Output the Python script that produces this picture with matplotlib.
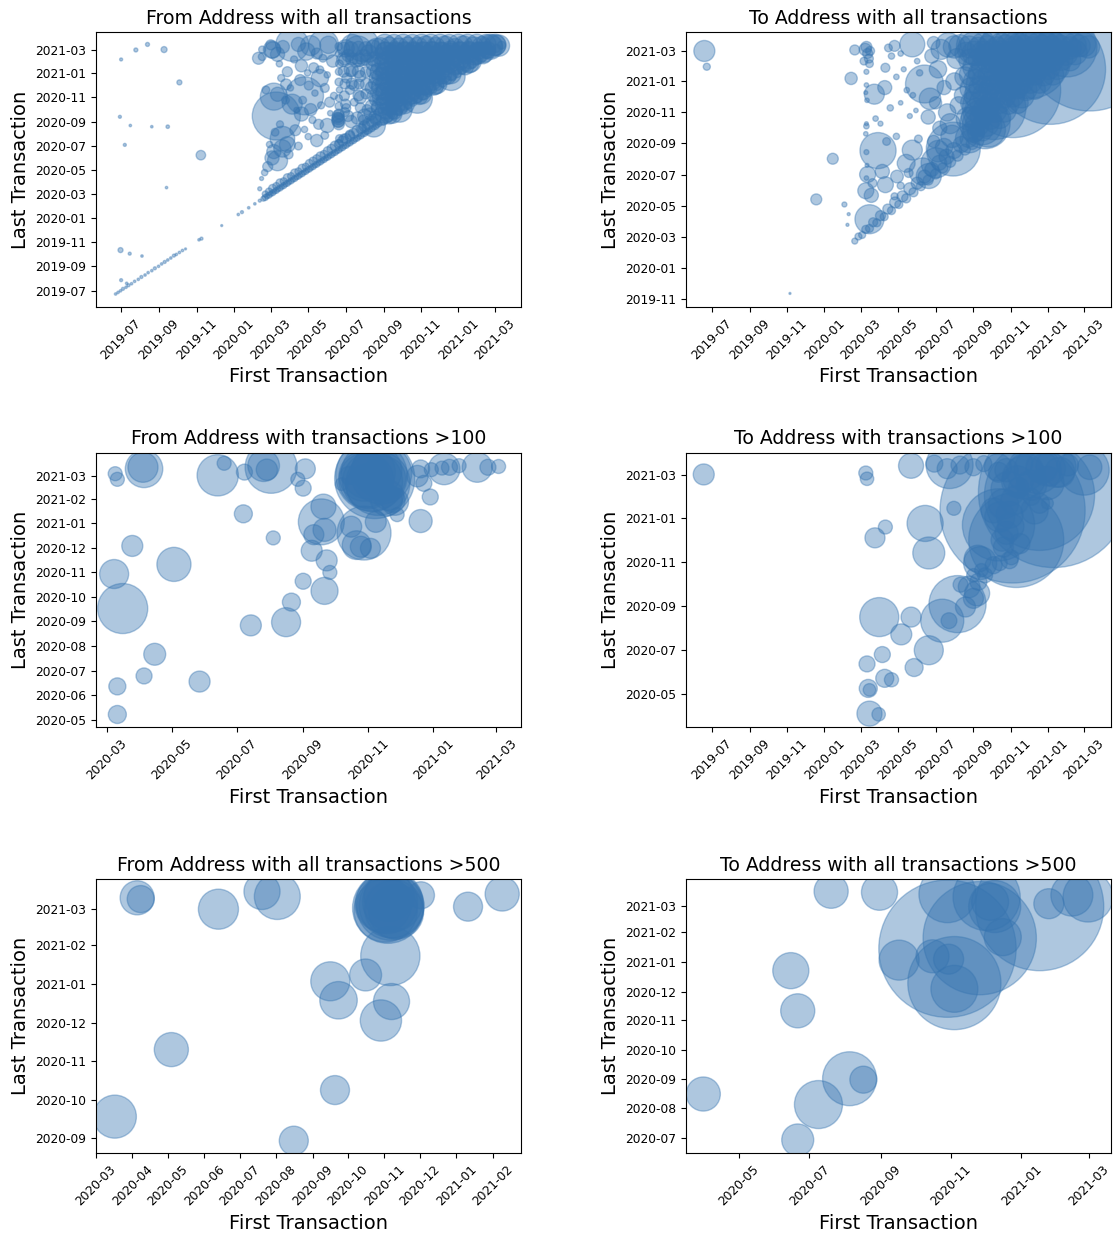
import matplotlib
matplotlib.use("Agg")
import matplotlib.pyplot as plt
import matplotlib.dates as mdates
import pandas as pd

# rows are (first transaction, last transaction, number of transactions)
from_all = [
    # early outliers
    ("2019-07-01", "2021-02-05", 9), ("2019-07-25", "2021-03-01", 16), ("2019-08-13", "2021-03-15", 16),
    ("2019-09-09", "2021-03-02", 36), ("2019-10-04", "2020-12-09", 25), ("2019-06-29", "2020-09-13", 9),
    ("2019-07-16", "2020-08-22", 6), ("2019-08-20", "2020-08-19", 6), ("2019-09-15", "2020-08-19", 12),
    ("2019-07-07", "2020-07-04", 9), ("2019-11-08", "2020-06-08", 90), ("2019-09-13", "2020-03-18", 6),
    ("2019-06-30", "2019-10-12", 25), ("2019-07-15", "2019-10-03", 9), ("2019-08-04", "2019-09-27", 6),
    ("2019-07-01", "2019-07-28", 9), ("2019-07-10", "2019-07-20", 6),
    # early diagonal
    ("2019-06-22", "2019-06-23", 6), ("2019-06-26", "2019-06-27", 6), ("2019-06-30", "2019-07-01", 6),
    ("2019-07-04", "2019-07-06", 9), ("2019-07-09", "2019-07-10", 6), ("2019-07-13", "2019-07-15", 9),
    ("2019-07-18", "2019-07-19", 6), ("2019-07-23", "2019-07-25", 6), ("2019-07-29", "2019-07-30", 6),
    ("2019-08-03", "2019-08-05", 9), ("2019-08-09", "2019-08-10", 6), ("2019-08-14", "2019-08-16", 6),
    ("2019-08-20", "2019-08-21", 6), ("2019-08-25", "2019-08-27", 9), ("2019-08-31", "2019-09-01", 6),
    ("2019-09-05", "2019-09-07", 6), ("2019-09-10", "2019-09-12", 9), ("2019-09-15", "2019-09-17", 6),
    ("2019-09-20", "2019-09-22", 6), ("2019-09-25", "2019-09-28", 9), ("2019-09-29", "2019-10-01", 6),
    ("2019-10-04", "2019-10-06", 6), ("2019-10-09", "2019-10-11", 6), ("2019-10-14", "2019-10-15", 4),
    ("2019-11-05", "2019-11-07", 6), ("2019-11-09", "2019-11-10", 9), ("2019-12-12", "2019-12-13", 4),
    ("2020-01-08", "2020-01-10", 6), ("2020-01-14", "2020-01-16", 9), ("2020-01-25", "2020-01-27", 6),
    ("2020-02-04", "2020-02-06", 6), ("2020-02-12", "2020-02-14", 9),
    # band along the diagonal
    ("2020-02-18", "2020-02-19", 25), ("2020-02-21", "2020-03-02", 36), ("2020-02-24", "2020-02-25", 25),
    ("2020-02-27", "2020-03-08", 49), ("2020-03-01", "2020-03-02", 25), ("2020-03-04", "2020-03-16", 64),
    ("2020-03-07", "2020-03-08", 25), ("2020-03-10", "2020-03-22", 49), ("2020-03-13", "2020-03-14", 25),
    ("2020-03-16", "2020-03-30", 64), ("2020-03-19", "2020-03-20", 25), ("2020-03-22", "2020-04-03", 49),
    ("2020-03-25", "2020-03-26", 25), ("2020-03-28", "2020-04-12", 64), ("2020-03-31", "2020-04-01", 25),
    ("2020-04-03", "2020-04-16", 49), ("2020-04-06", "2020-04-07", 25), ("2020-04-09", "2020-04-24", 64),
    ("2020-04-12", "2020-04-13", 25), ("2020-04-15", "2020-04-28", 49), ("2020-04-18", "2020-04-19", 25),
    ("2020-04-21", "2020-05-06", 64), ("2020-04-24", "2020-04-25", 25), ("2020-04-27", "2020-05-10", 49),
    ("2020-04-30", "2020-05-01", 25), ("2020-05-03", "2020-05-18", 64), ("2020-05-06", "2020-05-07", 25),
    ("2020-05-09", "2020-05-24", 64), ("2020-05-12", "2020-05-13", 25), ("2020-05-15", "2020-05-30", 64),
    ("2020-05-18", "2020-05-19", 25), ("2020-05-21", "2020-06-05", 81), ("2020-05-24", "2020-05-25", 25),
    ("2020-05-27", "2020-06-10", 64), ("2020-05-30", "2020-05-31", 25), ("2020-06-02", "2020-06-18", 81),
    ("2020-06-05", "2020-06-06", 25), ("2020-06-08", "2020-06-24", 81), ("2020-06-11", "2020-06-12", 25),
    ("2020-06-14", "2020-07-01", 100), ("2020-06-17", "2020-06-18", 25), ("2020-06-20", "2020-07-06", 81),
    ("2020-06-23", "2020-06-24", 25), ("2020-06-26", "2020-07-14", 100), ("2020-06-29", "2020-06-30", 25),
    ("2020-07-02", "2020-07-20", 100), ("2020-07-05", "2020-07-06", 25), ("2020-07-08", "2020-07-26", 100),
    ("2020-07-11", "2020-07-12", 25), ("2020-07-14", "2020-08-02", 100), ("2020-07-17", "2020-07-18", 25),
    ("2020-07-20", "2020-08-08", 121), ("2020-07-23", "2020-07-24", 25), ("2020-07-26", "2020-08-14", 100),
    ("2020-07-29", "2020-07-30", 25), ("2020-08-01", "2020-08-20", 121), ("2020-08-04", "2020-08-05", 25),
    ("2020-08-07", "2020-08-26", 121), ("2020-08-10", "2020-08-11", 25), ("2020-08-13", "2020-09-01", 121),
    ("2020-08-16", "2020-08-17", 25), ("2020-08-19", "2020-09-06", 121), ("2020-08-22", "2020-08-23", 25),
    ("2020-08-25", "2020-08-26", 25),
    ("2020-02-21", "2020-02-22", 36), ("2020-02-27", "2020-02-28", 36), ("2020-03-04", "2020-03-05", 36),
    ("2020-03-10", "2020-03-11", 36), ("2020-03-16", "2020-03-17", 36), ("2020-03-22", "2020-03-23", 36),
    ("2020-03-28", "2020-03-29", 36), ("2020-04-03", "2020-04-04", 36), ("2020-04-09", "2020-04-10", 36),
    ("2020-04-15", "2020-04-16", 36), ("2020-04-21", "2020-04-22", 36), ("2020-04-27", "2020-04-28", 36),
    ("2020-05-03", "2020-05-04", 36), ("2020-05-09", "2020-05-10", 36), ("2020-05-15", "2020-05-16", 36),
    ("2020-05-21", "2020-05-22", 36), ("2020-05-27", "2020-05-28", 36), ("2020-06-02", "2020-06-03", 36),
    ("2020-06-08", "2020-06-09", 36), ("2020-06-14", "2020-06-15", 36), ("2020-06-20", "2020-06-21", 36),
    ("2020-06-26", "2020-06-27", 36), ("2020-07-02", "2020-07-03", 36), ("2020-07-08", "2020-07-09", 36),
    ("2020-07-14", "2020-07-15", 36), ("2020-07-20", "2020-07-21", 36), ("2020-07-26", "2020-07-27", 36),
    ("2020-08-01", "2020-08-02", 36), ("2020-08-07", "2020-08-08", 36), ("2020-08-13", "2020-08-14", 36),
    ("2020-08-19", "2020-08-20", 36),
    # spring / summer 2020 bubbles
    ("2020-03-10", "2020-09-15", 2300), ("2020-04-05", "2021-03-14", 1090), ("2020-04-25", "2020-11-05", 1440),
    ("2020-05-26", "2021-03-14", 900), ("2020-03-06", "2020-11-03", 730), ("2020-03-12", "2020-05-25", 400),
    ("2020-03-06", "2020-06-17", 200), ("2020-02-10", "2021-02-08", 144), ("2020-02-16", "2021-03-02", 50),
    ("2020-03-04", "2021-03-01", 260), ("2020-03-12", "2021-02-18", 200), ("2020-03-21", "2021-03-09", 160),
    ("2020-03-12", "2020-11-09", 200), ("2020-03-26", "2020-12-04", 120), ("2020-04-18", "2020-12-15", 120),
    ("2020-05-02", "2020-12-01", 80), ("2020-05-20", "2020-12-20", 300), ("2020-05-10", "2021-01-15", 100),
    ("2020-04-20", "2021-01-20", 150), ("2020-03-28", "2021-01-05", 100), ("2020-02-22", "2020-11-20", 60),
    ("2020-02-20", "2020-04-25", 40), ("2020-02-15", "2020-04-10", 16), ("2020-02-12", "2020-03-15", 16),
    ("2020-02-25", "2020-05-10", 100), ("2020-03-03", "2020-06-01", 200), ("2020-03-20", "2020-06-25", 300),
    ("2020-03-20", "2020-07-20", 600), ("2020-03-28", "2020-07-05", 250), ("2020-04-10", "2020-08-10", 120),
    ("2020-04-20", "2020-09-20", 200), ("2020-04-05", "2020-10-15", 400), ("2020-05-05", "2020-10-01", 150),
    ("2020-05-18", "2020-08-25", 100), ("2020-06-01", "2020-08-22", 200), ("2020-05-15", "2020-07-15", 150),
    ("2020-06-05", "2020-10-20", 100), ("2020-05-28", "2020-11-25", 80), ("2020-06-10", "2021-02-01", 150),
    ("2020-05-15", "2021-02-20", 120), ("2020-04-28", "2021-02-25", 300), ("2020-04-15", "2021-03-15", 200),
    ("2020-05-05", "2021-03-12", 400), ("2020-06-03", "2021-03-14", 300), ("2020-03-01", "2021-03-14", 100),
    ("2020-03-03", "2021-03-02", 300), ("2020-02-16", "2021-02-12", 60),
    ("2020-03-15", "2021-01-25", 40), ("2020-03-18", "2020-12-20", 50), ("2020-03-25", "2020-10-25", 60),
    ("2020-04-02", "2020-11-25", 40), ("2020-04-08", "2021-02-05", 50), ("2020-04-12", "2020-09-30", 30),
    ("2020-04-22", "2020-10-25", 60), ("2020-04-30", "2021-01-02", 40), ("2020-05-08", "2020-09-05", 50),
    ("2020-05-12", "2020-11-12", 40), ("2020-05-22", "2020-10-12", 50), ("2020-05-25", "2021-02-08", 60),
    ("2020-06-01", "2020-12-28", 40), ("2020-06-06", "2020-09-22", 30), ("2020-06-12", "2020-11-05", 50),
    ("2020-03-08", "2020-08-05", 60), ("2020-03-30", "2020-06-10", 80), ("2020-04-15", "2020-07-01", 60),
    ("2020-05-01", "2020-07-25", 40), ("2020-05-28", "2020-07-28", 60), ("2020-02-28", "2020-07-05", 40),
    ("2020-03-16", "2020-08-25", 50), ("2020-04-25", "2020-08-12", 40), ("2020-05-20", "2021-01-10", 60),
    # column of addresses started mid June 2020
    ("2020-06-19", "2020-09-15", 144), ("2020-06-19", "2020-09-08", 144), ("2020-06-19", "2020-09-01", 144),
    ("2020-06-20", "2020-08-25", 121), ("2020-06-18", "2020-09-11", 121), ("2020-06-20", "2020-09-20", 100),
    ("2020-06-19", "2020-09-04", 169), ("2020-06-20", "2021-03-10", 60), ("2020-06-20", "2021-02-20", 50),
    ("2020-06-21", "2021-01-25", 60), ("2020-06-20", "2021-01-05", 50), ("2020-06-20", "2020-12-10", 60),
    ("2020-06-21", "2020-11-20", 40), ("2020-06-20", "2020-10-30", 50), ("2020-06-20", "2020-10-10", 60),
    ("2020-06-21", "2020-07-20", 60), ("2020-06-20", "2020-07-08", 50),
    # summer 2020
    ("2020-07-21", "2021-03-01", 784), ("2020-07-28", "2021-03-14", 1090), ("2020-08-16", "2020-08-22", 530),
    ("2020-07-05", "2021-02-15", 150), ("2020-07-10", "2021-01-10", 200), ("2020-07-15", "2020-12-01", 100),
    ("2020-07-25", "2020-11-01", 150), ("2020-08-05", "2020-10-01", 100), ("2020-07-01", "2020-10-15", 100),
    ("2020-07-20", "2020-09-10", 150), ("2020-08-10", "2020-09-20", 150), ("2020-08-20", "2020-12-20", 200),
    ("2020-08-15", "2021-01-25", 200), ("2020-07-28", "2020-08-15", 80), ("2020-07-08", "2020-07-30", 80),
    ("2020-06-28", "2020-07-20", 80), ("2020-07-01", "2021-03-05", 300), ("2020-07-12", "2021-03-12", 500),
    ("2020-06-28", "2021-02-05", 200), ("2020-07-18", "2021-02-01", 150), ("2020-07-30", "2021-02-10", 250),
    ("2020-08-08", "2021-02-20", 300), ("2020-08-20", "2021-03-05", 400), ("2020-07-03", "2020-12-20", 100),
    ("2020-07-25", "2020-12-25", 120), ("2020-08-12", "2020-11-25", 150), ("2020-08-03", "2020-11-10", 100),
    ("2020-07-08", "2020-11-20", 80), ("2020-08-18", "2020-10-25", 120), ("2020-07-15", "2020-10-20", 60),
    ("2020-06-30", "2020-09-25", 80), ("2020-07-10", "2020-09-01", 150), ("2020-08-01", "2020-09-15", 200),
    ("2020-08-22", "2020-10-05", 150), ("2020-08-24", "2021-01-05", 300), ("2020-08-24", "2020-11-15", 250),
    ("2020-06-28", "2021-03-05", 150), ("2020-07-10", "2021-03-04", 200), ("2020-07-22", "2021-03-06", 180),
    ("2020-08-03", "2021-03-04", 200), ("2020-08-15", "2021-03-06", 250), ("2020-06-29", "2021-02-05", 120),
    ("2020-07-11", "2021-02-06", 150), ("2020-07-23", "2021-02-04", 180), ("2020-08-04", "2021-02-05", 150),
    ("2020-08-16", "2021-02-06", 200), ("2020-06-28", "2021-01-05", 120), ("2020-07-10", "2021-01-06", 100),
    ("2020-07-22", "2021-01-05", 150), ("2020-08-03", "2021-01-04", 120), ("2020-08-15", "2021-01-06", 180),
    ("2020-06-30", "2020-12-05", 100), ("2020-07-11", "2020-12-06", 120), ("2020-07-23", "2020-12-05", 100),
    ("2020-08-04", "2020-12-04", 150), ("2020-08-16", "2020-12-06", 120), ("2020-06-29", "2020-11-05", 100),
    ("2020-07-22", "2020-11-06", 120), ("2020-08-15", "2020-11-05", 150), ("2020-07-02", "2020-10-05", 80),
    ("2020-07-25", "2020-10-06", 100), ("2020-08-12", "2020-10-10", 150), ("2020-07-05", "2020-09-15", 120),
    ("2020-07-30", "2020-09-05", 100), ("2020-08-18", "2020-09-12", 150),
    # autumn 2020 onwards
    ("2020-08-27", "2021-03-08", 360), ("2020-09-10", "2021-03-12", 300), ("2020-09-26", "2021-03-06", 400),
    ("2020-10-10", "2021-03-11", 330), ("2020-10-27", "2021-03-07", 420), ("2020-11-09", "2021-03-12", 380),
    ("2020-11-25", "2021-03-09", 350), ("2020-12-10", "2021-03-11", 400), ("2020-12-27", "2021-03-07", 330),
    ("2021-01-09", "2021-03-12", 380), ("2021-01-26", "2021-03-08", 420), ("2021-02-08", "2021-03-11", 360),
    ("2021-02-23", "2021-03-10", 500), ("2021-03-08", "2021-03-12", 450),
    ("2020-09-03", "2021-03-14", 450), ("2020-09-18", "2021-03-15", 400), ("2020-10-03", "2021-03-14", 450),
    ("2020-10-18", "2021-03-15", 400), ("2020-11-02", "2021-03-14", 450), ("2020-11-17", "2021-03-15", 420),
    ("2020-12-02", "2021-03-14", 450), ("2020-12-17", "2021-03-15", 400), ("2021-01-01", "2021-03-14", 450),
    ("2021-01-16", "2021-03-15", 420), ("2021-01-31", "2021-03-14", 450), ("2021-02-15", "2021-03-15", 400),
    ("2021-03-02", "2021-03-14", 450),
    ("2020-09-03", "2021-02-27", 300), ("2020-09-20", "2021-03-01", 280), ("2020-10-05", "2021-02-26", 300),
    ("2020-10-20", "2021-03-01", 280), ("2020-11-04", "2021-02-27", 320), ("2020-11-19", "2021-03-01", 280),
    ("2020-12-04", "2021-02-26", 300), ("2020-12-19", "2021-03-01", 320), ("2021-01-03", "2021-02-27", 280),
    ("2021-01-18", "2021-03-01", 300), ("2021-02-02", "2021-02-27", 300), ("2021-02-17", "2021-03-01", 280),
    ("2020-09-05", "2021-02-22", 450), ("2020-09-20", "2021-02-21", 420), ("2020-10-05", "2021-02-23", 450),
    ("2020-10-20", "2021-02-22", 400), ("2020-11-04", "2021-02-21", 450), ("2020-11-19", "2021-02-23", 420),
    ("2020-12-04", "2021-02-22", 450), ("2020-12-19", "2021-02-21", 400), ("2021-01-03", "2021-02-23", 450),
    ("2021-01-18", "2021-02-22", 420), ("2021-02-02", "2021-02-21", 450), ("2021-02-12", "2021-02-23", 400),
    ("2020-08-28", "2021-02-13", 300), ("2020-09-13", "2021-02-17", 380), ("2020-09-28", "2021-02-12", 330),
    ("2020-10-13", "2021-02-18", 360), ("2020-10-28", "2021-02-14", 400), ("2020-11-12", "2021-02-16", 330),
    ("2020-11-27", "2021-02-13", 380), ("2020-12-12", "2021-02-17", 360), ("2020-12-28", "2021-02-14", 400),
    ("2021-01-12", "2021-02-18", 330), ("2021-01-27", "2021-02-15", 360), ("2021-02-10", "2021-02-16", 300),
    ("2020-09-04", "2021-02-01", 300), ("2020-09-19", "2021-02-03", 280), ("2020-10-05", "2021-01-31", 300),
    ("2020-10-20", "2021-02-02", 280), ("2020-11-04", "2021-02-01", 300), ("2020-11-19", "2021-02-03", 320),
    ("2020-12-04", "2021-01-31", 280), ("2020-12-19", "2021-02-02", 300), ("2021-01-04", "2021-02-01", 300),
    ("2021-01-20", "2021-02-02", 280),
    ("2020-09-04", "2021-01-27", 450), ("2020-09-19", "2021-01-28", 420), ("2020-10-04", "2021-01-26", 450),
    ("2020-10-19", "2021-01-27", 400), ("2020-11-03", "2021-01-28", 450), ("2020-11-18", "2021-01-26", 420),
    ("2020-12-03", "2021-01-27", 450), ("2020-12-18", "2021-01-28", 400), ("2021-01-03", "2021-01-26", 450),
    ("2021-01-18", "2021-01-27", 400),
    ("2020-08-27", "2021-01-18", 330), ("2020-09-11", "2021-01-22", 380), ("2020-09-27", "2021-01-19", 330),
    ("2020-10-11", "2021-01-21", 400), ("2020-10-26", "2021-01-18", 360), ("2020-11-10", "2021-01-22", 330),
    ("2020-11-26", "2021-01-19", 380), ("2020-12-11", "2021-01-21", 360), ("2020-12-26", "2021-01-20", 330),
    ("2021-01-12", "2021-01-19", 300),
    ("2020-09-03", "2021-01-05", 300), ("2020-09-19", "2021-01-06", 280), ("2020-10-04", "2021-01-04", 300),
    ("2020-10-19", "2021-01-06", 320), ("2020-11-03", "2021-01-05", 280), ("2020-11-18", "2021-01-04", 300),
    ("2020-12-03", "2021-01-06", 300), ("2020-12-19", "2021-01-05", 280),
    ("2020-09-05", "2021-01-01", 450), ("2020-09-20", "2020-12-31", 420), ("2020-10-05", "2021-01-01", 450),
    ("2020-10-20", "2020-12-31", 400), ("2020-11-04", "2021-01-01", 450), ("2020-11-19", "2020-12-31", 420),
    ("2020-12-04", "2021-01-01", 450), ("2020-12-20", "2020-12-31", 400),
    ("2020-08-28", "2020-12-23", 330), ("2020-09-12", "2020-12-27", 360), ("2020-09-28", "2020-12-24", 380),
    ("2020-10-12", "2020-12-26", 330), ("2020-10-27", "2020-12-23", 400), ("2020-11-11", "2020-12-27", 360),
    ("2020-11-26", "2020-12-24", 330), ("2020-12-14", "2020-12-26", 300),
    ("2020-09-04", "2020-12-10", 300), ("2020-09-19", "2020-12-12", 280), ("2020-10-04", "2020-12-09", 300),
    ("2020-10-19", "2020-12-11", 300), ("2020-11-03", "2020-12-10", 280), ("2020-11-19", "2020-12-11", 300),
    ("2020-09-05", "2020-12-05", 450), ("2020-09-20", "2020-12-04", 420), ("2020-10-05", "2020-12-06", 450),
    ("2020-10-20", "2020-12-05", 400), ("2020-11-04", "2020-12-04", 450), ("2020-11-27", "2020-12-06", 400),
    ("2020-08-27", "2020-11-28", 330), ("2020-09-11", "2020-12-01", 380), ("2020-09-26", "2020-11-29", 330),
    ("2020-10-11", "2020-12-02", 360), ("2020-10-26", "2020-11-28", 330), ("2020-11-10", "2020-12-01", 360),
    ("2020-11-24", "2020-11-30", 300),
    ("2020-09-03", "2020-11-16", 300), ("2020-09-19", "2020-11-17", 280), ("2020-10-04", "2020-11-15", 300),
    ("2020-10-19", "2020-11-16", 280), ("2020-11-04", "2020-11-15", 260),
    ("2020-09-05", "2020-11-10", 450), ("2020-09-20", "2020-11-09", 420), ("2020-10-05", "2020-11-11", 450),
    ("2020-10-20", "2020-11-10", 400), ("2020-11-02", "2020-11-09", 380),
    ("2020-08-28", "2020-11-04", 330), ("2020-09-12", "2020-11-07", 360), ("2020-09-27", "2020-11-03", 330),
    ("2020-10-12", "2020-11-06", 380), ("2020-10-29", "2020-11-05", 300),
    ("2020-09-04", "2020-10-21", 300), ("2020-09-19", "2020-10-22", 280), ("2020-10-04", "2020-10-20", 260),
    ("2020-09-05", "2020-10-15", 450), ("2020-09-20", "2020-10-14", 420), ("2020-10-05", "2020-10-16", 400),
    ("2020-08-27", "2020-10-08", 330), ("2020-09-11", "2020-10-12", 360), ("2020-09-27", "2020-10-09", 300),
    ("2020-09-05", "2020-09-28", 260), ("2020-09-18", "2020-09-26", 240),
    ("2020-09-03", "2020-09-22", 400), ("2020-09-15", "2020-09-21", 380),
    ("2020-08-28", "2020-09-14", 300), ("2020-09-10", "2020-09-16", 280),
    ("2020-09-01", "2020-09-02", 64), ("2020-09-09", "2020-09-10", 64), ("2020-09-17", "2020-09-18", 64),
    ("2020-09-25", "2020-09-26", 64), ("2020-10-03", "2020-10-04", 64), ("2020-10-11", "2020-10-12", 64),
    ("2020-10-19", "2020-10-20", 64), ("2020-10-27", "2020-10-28", 64), ("2020-11-04", "2020-11-05", 64),
    ("2020-11-12", "2020-11-13", 64), ("2020-11-20", "2020-11-21", 64), ("2020-11-28", "2020-11-29", 64),
    ("2020-12-06", "2020-12-07", 64), ("2020-12-14", "2020-12-15", 64), ("2020-12-22", "2020-12-23", 64),
    ("2020-12-30", "2020-12-31", 64), ("2021-01-07", "2021-01-08", 64), ("2021-01-15", "2021-01-16", 64),
    ("2021-01-23", "2021-01-24", 64), ("2021-01-31", "2021-02-01", 64), ("2021-02-08", "2021-02-09", 64),
    ("2021-02-16", "2021-02-17", 64), ("2021-02-24", "2021-02-25", 64), ("2021-03-04", "2021-03-05", 64),
    ("2021-03-12", "2021-03-13", 64),
    ("2020-09-27", "2020-10-01", 625), ("2020-10-26", "2020-10-30", 900), ("2020-12-20", "2020-12-24", 784),
    ("2021-02-22", "2021-03-09", 625), ("2021-03-03", "2021-03-13", 400), ("2020-11-20", "2020-12-05", 500),
    ("2021-01-20", "2021-02-01", 500),
]

to_all = [
    ("2019-06-19", "2021-03-02", 440), ("2019-06-23", "2021-01-30", 50), ("2019-11-06", "2019-11-11", 4),
    ("2020-01-15", "2020-08-02", 120), ("2019-12-19", "2020-05-14", 120), ("2020-02-03", "2020-05-04", 25),
    ("2020-02-14", "2021-01-07", 150), ("2020-02-20", "2021-03-04", 100), ("2020-02-08", "2020-03-25", 9),
    ("2020-02-10", "2020-04-15", 9),
    ("2020-03-10", "2020-12-25", 20), ("2020-03-09", "2020-12-10", 15), ("2020-03-11", "2020-11-25", 20),
    ("2020-03-10", "2020-10-10", 15), ("2020-03-09", "2020-09-20", 20), ("2020-03-10", "2020-08-15", 25),
    ("2020-03-11", "2020-07-20", 15), ("2020-03-10", "2020-06-25", 20), ("2020-03-10", "2021-01-20", 25),
    ("2020-03-08", "2021-03-05", 150), ("2020-03-12", "2021-02-25", 100), ("2020-03-14", "2021-02-15", 80),
    ("2020-03-10", "2021-03-10", 120), ("2020-03-16", "2021-03-02", 80), ("2020-03-06", "2021-02-10", 60),
    ("2020-03-15", "2021-02-05", 60),
    ("2020-03-23", "2020-12-07", 400), ("2020-04-09", "2020-12-20", 196), ("2020-03-29", "2020-08-18", 1300),
    ("2020-03-12", "2020-07-02", 256), ("2020-03-09", "2020-05-31", 256), ("2020-03-15", "2020-04-05", 840),
    ("2020-03-18", "2020-05-22", 200), ("2020-04-05", "2020-07-08", 200), ("2020-04-10", "2020-06-12", 256),
    ("2020-04-29", "2020-06-28", 160), ("2020-05-14", "2020-07-24", 320), ("2020-05-24", "2020-08-19", 400),
    ("2020-05-24", "2021-03-15", 625), ("2020-06-13", "2020-12-27", 1440), ("2020-06-22", "2020-11-28", 460),
    ("2020-06-19", "2020-10-23", 200), ("2020-06-28", "2021-03-18", 160), ("2020-06-10", "2020-07-08", 730),
    ("2020-07-05", "2020-08-17", 460), ("2020-07-02", "2020-07-25", 900), ("2020-06-20", "2020-06-29", 625),
    ("2020-07-30", "2020-08-21", 2900), ("2020-08-26", "2020-09-11", 820), ("2020-09-15", "2020-10-07", 1550),
    ("2020-04-15", "2021-03-08", 60), ("2020-04-20", "2021-02-20", 40), ("2020-04-25", "2021-03-12", 120),
    ("2020-04-10", "2021-01-28", 80), ("2020-04-28", "2021-01-10", 30), ("2020-05-05", "2021-02-25", 30),
    ("2020-05-10", "2021-01-25", 25), ("2020-05-15", "2020-12-15", 30), ("2020-05-05", "2020-11-20", 20),
    ("2020-04-18", "2020-11-10", 40), ("2020-03-25", "2020-10-20", 30), ("2020-03-10", "2020-10-05", 30),
    ("2020-04-02", "2020-10-10", 25), ("2020-05-20", "2020-10-25", 25), ("2020-05-25", "2020-12-05", 30),
    ("2020-05-30", "2020-11-05", 20), ("2020-06-05", "2021-01-18", 40), ("2020-06-01", "2021-02-10", 30),
    ("2020-04-28", "2020-09-15", 40), ("2020-04-12", "2020-09-05", 60), ("2020-03-20", "2020-06-15", 80),
    ("2020-04-25", "2020-05-20", 50), ("2020-05-05", "2020-06-10", 50), ("2020-05-18", "2020-07-05", 80),
    ("2020-06-03", "2020-09-10", 60),
    ("2020-02-20", "2020-02-22", 36), ("2020-02-26", "2020-03-02", 49), ("2020-03-03", "2020-03-05", 49),
    ("2020-03-09", "2020-03-16", 64), ("2020-03-15", "2020-03-18", 64), ("2020-03-21", "2020-03-30", 81),
    ("2020-03-27", "2020-03-29", 64), ("2020-04-02", "2020-04-12", 100), ("2020-04-08", "2020-04-10", 64),
    ("2020-04-14", "2020-04-25", 100), ("2020-04-20", "2020-04-22", 64), ("2020-04-26", "2020-05-08", 121),
    ("2020-05-02", "2020-05-04", 64), ("2020-05-08", "2020-05-20", 121), ("2020-05-14", "2020-05-16", 81),
    ("2020-05-20", "2020-06-04", 144), ("2020-05-26", "2020-05-28", 81), ("2020-06-01", "2020-06-15", 144),
    ("2020-06-07", "2020-06-09", 81), ("2020-06-13", "2020-06-28", 169), ("2020-06-19", "2020-06-21", 100),
    ("2020-06-25", "2020-07-12", 196), ("2020-07-01", "2020-07-03", 100), ("2020-07-07", "2020-07-25", 225),
    ("2020-07-13", "2020-07-15", 100), ("2020-07-19", "2020-08-06", 225), ("2020-07-25", "2020-07-27", 121),
    ("2020-07-31", "2020-08-18", 256), ("2020-08-06", "2020-08-08", 121), ("2020-08-12", "2020-08-30", 256),
    ("2020-08-18", "2020-08-20", 121), ("2020-08-24", "2020-09-10", 289), ("2020-08-30", "2020-09-01", 144),
    ("2020-09-05", "2020-09-22", 289),
    ("2020-06-25", "2021-02-20", 200), ("2020-07-05", "2021-01-25", 300), ("2020-07-10", "2021-03-05", 400),
    ("2020-07-15", "2020-12-20", 200), ("2020-07-01", "2020-11-20", 150), ("2020-07-20", "2020-11-01", 300),
    ("2020-07-25", "2020-10-10", 400), ("2020-07-08", "2020-10-01", 200), ("2020-07-28", "2020-09-15", 500),
    ("2020-08-05", "2021-02-15", 400), ("2020-08-10", "2021-03-12", 500), ("2020-08-15", "2020-12-05", 300),
    ("2020-08-18", "2021-01-10", 400), ("2020-08-01", "2021-01-01", 300), ("2020-08-22", "2020-10-20", 500),
    ("2020-08-08", "2020-11-15", 300), ("2020-06-28", "2020-09-05", 150), ("2020-07-15", "2020-08-25", 300),
    ("2020-08-20", "2021-02-25", 500), ("2020-07-22", "2021-03-14", 600), ("2020-08-01", "2021-03-10", 500),
    ("2020-08-25", "2021-03-10", 480), ("2020-09-09", "2021-03-07", 500), ("2020-09-24", "2021-03-11", 460),
    ("2020-10-09", "2021-03-08", 500), ("2020-10-24", "2021-03-12", 480), ("2020-11-08", "2021-03-09", 520),
    ("2020-11-23", "2021-03-11", 480), ("2020-12-08", "2021-03-08", 500), ("2020-12-23", "2021-03-12", 460),
    ("2021-01-07", "2021-03-09", 520), ("2021-01-22", "2021-03-11", 480), ("2021-02-06", "2021-03-08", 500),
    ("2021-02-21", "2021-03-12", 480), ("2021-03-08", "2021-03-10", 500),
    ("2020-08-31", "2021-03-15", 600), ("2020-09-16", "2021-03-14", 560), ("2020-10-01", "2021-03-15", 600),
    ("2020-10-16", "2021-03-14", 560), ("2020-10-31", "2021-03-15", 600), ("2020-11-15", "2021-03-14", 560),
    ("2020-11-30", "2021-03-15", 600), ("2020-12-15", "2021-03-14", 560), ("2020-12-30", "2021-03-15", 600),
    ("2021-01-14", "2021-03-14", 560), ("2021-01-29", "2021-03-15", 600), ("2021-02-13", "2021-03-14", 560),
    ("2021-02-28", "2021-03-15", 600),
    ("2020-08-26", "2021-02-12", 480), ("2020-09-10", "2021-02-14", 460), ("2020-09-25", "2021-02-10", 500),
    ("2020-10-10", "2021-02-13", 480), ("2020-10-25", "2021-02-11", 520), ("2020-11-09", "2021-02-14", 480),
    ("2020-11-24", "2021-02-12", 500), ("2020-12-09", "2021-02-10", 460), ("2020-12-24", "2021-02-13", 500),
    ("2021-01-08", "2021-02-11", 480), ("2021-01-23", "2021-02-14", 500), ("2021-02-06", "2021-02-12", 460),
    ("2020-09-02", "2021-02-26", 560), ("2020-09-17", "2021-02-25", 600), ("2020-10-02", "2021-02-27", 560),
    ("2020-10-17", "2021-02-26", 600), ("2020-11-01", "2021-02-25", 560), ("2020-11-16", "2021-02-27", 600),
    ("2020-12-01", "2021-02-26", 560), ("2020-12-16", "2021-02-25", 600), ("2020-12-31", "2021-02-27", 560),
    ("2021-01-15", "2021-02-26", 600), ("2021-01-30", "2021-02-25", 560), ("2021-02-14", "2021-02-27", 600),
    ("2020-08-27", "2021-01-15", 480), ("2020-09-11", "2021-01-17", 500), ("2020-09-26", "2021-01-13", 460),
    ("2020-10-11", "2021-01-16", 500), ("2020-10-26", "2021-01-14", 480), ("2020-11-10", "2021-01-17", 520),
    ("2020-11-25", "2021-01-13", 480), ("2020-12-10", "2021-01-16", 500), ("2020-12-25", "2021-01-14", 480),
    ("2021-01-09", "2021-01-15", 460),
    ("2020-09-03", "2021-01-29", 560), ("2020-09-18", "2021-01-30", 600), ("2020-10-03", "2021-01-28", 560),
    ("2020-10-18", "2021-01-29", 600), ("2020-11-02", "2021-01-30", 560), ("2020-11-17", "2021-01-28", 600),
    ("2020-12-02", "2021-01-29", 560), ("2020-12-17", "2021-01-30", 600), ("2021-01-01", "2021-01-28", 560),
    ("2021-01-16", "2021-01-29", 600),
    ("2020-08-28", "2020-12-18", 480), ("2020-09-12", "2020-12-20", 500), ("2020-09-27", "2020-12-16", 460),
    ("2020-10-12", "2020-12-19", 500), ("2020-10-27", "2020-12-17", 480), ("2020-11-11", "2020-12-20", 500),
    ("2020-11-26", "2020-12-16", 480), ("2020-12-10", "2020-12-18", 460),
    ("2020-09-04", "2021-01-01", 560), ("2020-09-19", "2021-01-02", 600), ("2020-10-04", "2020-12-31", 560),
    ("2020-10-19", "2021-01-01", 600), ("2020-11-03", "2021-01-02", 560), ("2020-11-18", "2020-12-31", 600),
    ("2020-12-03", "2021-01-01", 560), ("2020-12-18", "2021-01-02", 600),
    ("2020-08-29", "2020-11-20", 480), ("2020-09-13", "2020-11-22", 500), ("2020-09-28", "2020-11-18", 460),
    ("2020-10-13", "2020-11-21", 500), ("2020-10-28", "2020-11-19", 480), ("2020-11-12", "2020-11-20", 460),
    ("2020-09-05", "2020-12-04", 560), ("2020-09-20", "2020-12-05", 600), ("2020-10-05", "2020-12-03", 560),
    ("2020-10-20", "2020-12-04", 600), ("2020-11-04", "2020-12-05", 560), ("2020-11-19", "2020-12-04", 600),
    ("2020-08-30", "2020-10-22", 480), ("2020-09-14", "2020-10-24", 500), ("2020-09-29", "2020-10-20", 460),
    ("2020-10-14", "2020-10-22", 480), ("2020-09-01", "2020-09-25", 480), ("2020-09-15", "2020-09-27", 460),
    ("2020-09-06", "2020-11-06", 560), ("2020-09-21", "2020-11-07", 600), ("2020-10-06", "2020-11-05", 560),
    ("2020-10-21", "2020-11-06", 600), ("2020-09-07", "2020-10-08", 560), ("2020-09-22", "2020-10-09", 600),
    ("2020-11-05", "2020-12-15", 9000), ("2021-01-05", "2021-01-25", 12100), ("2021-03-10", "2021-03-12", 16900),
    ("2020-12-01", "2021-02-15", 6400), ("2020-10-05", "2020-11-10", 4000), ("2020-09-20", "2020-10-10", 2500),
    ("2020-10-20", "2021-03-05", 2500), ("2021-02-01", "2021-03-10", 3600), ("2020-12-10", "2021-03-01", 2500),
    ("2020-09-05", "2021-03-12", 1500), ("2020-09-25", "2020-09-28", 1200),
]

from_100 = [
    ("2020-03-11", "2020-05-08", 324), ("2020-03-11", "2020-06-12", 290), ("2020-04-05", "2020-06-25", 256),
    ("2020-05-27", "2020-06-18", 440), ("2020-04-15", "2020-07-22", 480), ("2020-03-16", "2020-09-17", 2500),
    ("2020-03-08", "2020-10-30", 840), ("2020-03-25", "2020-12-04", 440), ("2020-05-03", "2020-11-11", 1160),
    ("2020-03-09", "2021-03-04", 196), ("2020-03-11", "2021-02-25", 196), ("2020-04-05", "2021-03-10", 1400),
    ("2020-04-04", "2021-03-12", 900), ("2020-06-13", "2021-03-02", 1700), ("2020-06-19", "2021-03-17", 196),
    ("2020-07-08", "2021-03-06", 256), ("2020-08-02", "2021-03-12", 2700), ("2020-07-29", "2021-03-09", 450),
    ("2020-07-26", "2021-03-14", 1000), ("2020-07-07", "2021-01-13", 324), ("2020-08-04", "2020-12-14", 196),
    ("2020-07-14", "2020-08-27", 440), ("2020-08-16", "2020-08-31", 840), ("2020-08-21", "2020-09-25", 324),
    ("2020-09-01", "2020-10-21", 256), ("2020-09-21", "2020-10-09", 730), ("2020-09-26", "2020-11-01", 196),
    ("2020-09-23", "2020-11-16", 440), ("2020-09-09", "2020-11-28", 440), ("2020-09-18", "2021-01-03", 2100),
    ("2020-09-20", "2021-01-22", 625), ("2020-09-11", "2020-12-18", 400), ("2020-09-21", "2020-12-24", 530),
    ("2020-09-01", "2021-02-14", 256), ("2020-08-27", "2021-02-25", 196), ("2020-09-03", "2021-03-10", 400),
    ("2020-11-07", "2021-02-26", 6400), ("2020-11-04", "2021-03-02", 5100), ("2020-11-10", "2021-02-20", 4100),
    ("2020-11-01", "2021-03-06", 2900), ("2020-11-13", "2021-03-04", 3700), ("2020-10-30", "2021-02-24", 3000),
    ("2020-11-05", "2021-02-22", 3600), ("2020-11-09", "2021-03-08", 2500), ("2020-10-28", "2021-03-01", 2500),
    ("2020-11-15", "2021-02-26", 2000), ("2020-11-01", "2021-02-16", 2000), ("2020-11-18", "2021-01-30", 1000),
    ("2020-11-20", "2021-02-05", 900),
    ("2020-11-26", "2021-01-28", 730), ("2020-11-24", "2021-01-30", 600), ("2020-10-28", "2020-12-20", 2900),
    ("2020-10-25", "2020-12-03", 440), ("2020-11-03", "2020-12-01", 400), ("2020-10-21", "2020-12-05", 820),
    ("2020-11-08", "2021-01-03", 440), ("2020-10-16", "2020-12-28", 440), ("2020-11-28", "2021-01-12", 196),
    ("2020-12-20", "2021-01-04", 530), ("2020-12-29", "2021-02-03", 256), ("2020-12-23", "2021-02-20", 256),
    ("2020-12-20", "2021-03-10", 320), ("2021-01-11", "2021-03-10", 1000), ("2021-01-09", "2021-03-11", 196),
    ("2021-01-16", "2021-03-12", 256), ("2021-01-25", "2021-03-14", 196), ("2021-02-11", "2021-03-12", 900),
    ("2021-02-21", "2021-03-12", 256), ("2021-03-03", "2021-03-13", 196), ("2020-12-30", "2021-03-09", 196),
    ("2020-10-14", "2021-03-02", 320), ("2020-10-07", "2021-02-19", 160), ("2020-12-17", "2021-03-01", 460),
]

to_100 = [
    ("2019-06-18", "2021-03-02", 440), ("2020-03-09", "2021-03-04", 196), ("2020-03-11", "2021-02-24", 180),
    ("2020-03-24", "2020-12-04", 400), ("2020-04-10", "2020-12-19", 196), ("2020-03-31", "2020-08-16", 1520),
    ("2020-03-11", "2020-06-12", 256), ("2020-04-05", "2020-06-25", 256), ("2020-04-09", "2020-05-23", 324),
    ("2020-04-20", "2020-05-21", 200), ("2020-03-13", "2020-05-09", 324), ("2020-03-15", "2020-05-07", 156),
    ("2020-03-15", "2020-04-04", 625), ("2020-03-30", "2020-04-03", 180), ("2020-05-06", "2020-07-23", 440),
    ("2020-05-22", "2020-08-16", 400), ("2020-05-27", "2020-06-07", 324), ("2020-05-22", "2021-03-14", 625),
    ("2020-06-14", "2020-12-24", 1300), ("2020-06-20", "2020-11-13", 1020), ("2020-06-20", "2020-07-01", 840),
    ("2020-07-12", "2020-08-11", 1850), ("2020-07-23", "2020-08-11", 250), ("2020-08-06", "2020-09-03", 3250),
    ("2020-08-19", "2020-08-30", 400), ("2020-07-31", "2021-01-14", 196), ("2020-06-29", "2021-03-17", 290),
    ("2020-07-20", "2021-03-10", 400), ("2020-07-24", "2021-03-15", 2200), ("2020-08-10", "2021-03-15", 324),
    ("2020-09-01", "2021-03-12", 290), ("2020-09-18", "2021-03-17", 256), ("2020-10-12", "2021-03-05", 400),
    ("2020-11-04", "2021-01-11", 21000), ("2021-01-10", "2021-02-05", 22500), ("2020-11-10", "2020-12-01", 9000),
    ("2020-12-18", "2021-02-01", 12100), ("2020-10-12", "2020-12-22", 5200), ("2020-10-14", "2021-01-02", 900),
    ("2020-10-30", "2021-01-05", 730), ("2020-10-25", "2020-12-11", 530), ("2020-10-20", "2020-11-21", 400),
    ("2020-10-04", "2021-01-11", 625), ("2020-11-16", "2020-11-26", 400), ("2020-11-02", "2020-11-07", 225),
    ("2020-10-30", "2020-11-03", 290), ("2020-10-14", "2020-10-30", 225), ("2020-10-04", "2020-10-27", 290),
    ("2020-09-20", "2020-10-13", 225), ("2020-09-12", "2020-10-30", 1090), ("2020-09-08", "2020-11-05", 730),
    ("2020-09-14", "2020-10-20", 180), ("2020-09-09", "2020-10-04", 290), ("2020-09-01", "2020-10-13", 180),
    ("2020-08-25", "2020-09-27", 470), ("2020-08-11", "2020-09-30", 225), ("2020-09-07", "2020-09-18", 625),
    ("2020-09-01", "2020-09-11", 400), ("2020-11-23", "2021-02-26", 1850), ("2020-12-15", "2021-03-08", 2200),
    ("2020-12-31", "2021-02-18", 1100), ("2021-01-14", "2021-03-12", 1600), ("2021-02-02", "2021-03-15", 470),
    ("2020-12-10", "2021-01-11", 730), ("2020-12-18", "2021-01-21", 400), ("2020-12-31", "2021-01-21", 140),
    ("2020-12-05", "2021-01-30", 290), ("2020-11-14", "2021-02-12", 400), ("2020-10-25", "2021-03-08", 540),
    ("2020-10-11", "2021-03-12", 730), ("2020-11-18", "2021-03-17", 540), ("2021-03-01", "2021-03-08", 2500),
    ("2021-03-10", "2021-03-12", 600),
    ("2020-10-20", "2021-01-20", 900), ("2020-11-01", "2020-12-20", 700), ("2020-10-28", "2021-02-10", 1200),
    ("2020-11-12", "2021-02-20", 1000), ("2020-11-25", "2021-03-05", 1400), ("2020-12-05", "2021-02-15", 900),
    ("2020-10-18", "2020-12-01", 500), ("2020-11-08", "2021-01-25", 800), ("2021-01-01", "2021-03-10", 1200),
    ("2021-01-20", "2021-03-05", 900), ("2020-12-22", "2021-03-12", 1000),
]

from_500 = [
    ("2020-03-17", "2020-09-18", 1850), ("2020-05-04", "2020-11-10", 1160), ("2020-04-05", "2021-03-10", 1160),
    ("2020-04-08", "2021-03-09", 730), ("2020-06-13", "2021-03-01", 1600), ("2020-07-20", "2021-03-15", 1300),
    ("2020-08-02", "2021-03-11", 2100), ("2020-08-16", "2020-08-30", 840), ("2020-09-20", "2020-10-09", 840),
    ("2020-09-16", "2021-01-03", 1520), ("2020-09-23", "2020-12-19", 1400), ("2020-10-16", "2021-01-08", 1020),
    ("2020-11-06", "2021-01-23", 3500), ("2020-11-07", "2020-12-18", 1300), ("2020-10-29", "2020-12-03", 1700),
    ("2021-01-11", "2021-03-03", 840), ("2021-02-09", "2021-03-13", 1160),
    ("2020-11-04", "2021-03-02", 5000), ("2020-11-07", "2021-03-04", 4200), ("2020-11-02", "2021-02-28", 4000),
    ("2020-11-08", "2021-03-07", 3600), ("2020-10-31", "2021-03-05", 3200), ("2020-11-11", "2021-02-27", 3000),
    ("2020-11-05", "2021-03-11", 2500), ("2020-12-02", "2021-03-12", 730),
    ("2020-11-06", "2021-03-03", 4500), ("2020-11-03", "2021-03-06", 3800), ("2020-11-09", "2021-03-01", 3400),
]

to_500 = [
    ("2020-03-31", "2020-08-16", 1160), ("2020-06-21", "2020-06-29", 1020), ("2020-07-09", "2020-08-05", 2300),
    ("2020-08-05", "2020-09-01", 2900), ("2020-08-17", "2020-08-31", 730), ("2020-06-15", "2020-12-23", 1300),
    ("2020-06-21", "2020-11-11", 1160), ("2020-07-20", "2021-03-16", 1160), ("2020-08-31", "2021-03-15", 1300),
    ("2020-10-29", "2021-01-15", 18800), ("2020-11-04", "2020-12-10", 8650), ("2020-11-26", "2021-01-26", 12800),
    ("2021-01-17", "2021-02-28", 16400), ("2020-10-29", "2021-03-13", 3250), ("2020-12-02", "2021-03-10", 4500),
    ("2020-12-05", "2021-03-05", 1370), ("2020-12-09", "2021-02-28", 2700), ("2020-12-16", "2021-01-27", 1370),
    ("2020-09-17", "2021-01-03", 1600), ("2020-10-16", "2021-01-07", 1090), ("2020-10-30", "2021-01-04", 900),
    ("2020-11-04", "2020-12-04", 2200), ("2021-01-25", "2021-03-03", 900), ("2021-02-14", "2021-03-12", 1760),
    ("2021-02-28", "2021-03-10", 2500),
]

titles = [
    "From Address with all transactions", "To Address with all transactions",
    "From Address with transactions >100", "To Address with transactions >100",
    "From Address with all transactions >500", "To Address with all transactions >500",
]

ODD_MONTHS = [1, 3, 5, 7, 9, 11]
ALL_MONTHS = list(range(1, 13))


def draw_panel(ax, rows, title, xlim, ylim, x_months, y_months):
    first = pd.to_datetime([r[0] for r in rows])
    last = pd.to_datetime([r[1] for r in rows])
    sizes = [r[2] * 0.52 for r in rows]
    ax.scatter(first, last, s=sizes, color="#3674b0", alpha=0.4, linewidths=1)
    ax.set_xlim(pd.Timestamp(xlim[0]), pd.Timestamp(xlim[1]))
    ax.set_ylim(pd.Timestamp(ylim[0]), pd.Timestamp(ylim[1]))
    ax.xaxis.set_major_locator(mdates.MonthLocator(bymonth=x_months))
    ax.yaxis.set_major_locator(mdates.MonthLocator(bymonth=y_months))
    ax.xaxis.set_major_formatter(mdates.DateFormatter("%Y-%m"))
    ax.yaxis.set_major_formatter(mdates.DateFormatter("%Y-%m"))
    ax.tick_params(axis="both", labelsize=8.8)
    plt.setp(ax.get_xticklabels(), rotation=45)
    ax.set_title(title, fontsize=13.6)
    ax.set_xlabel("First Transaction", fontsize=14)
    ax.set_ylabel("Last Transaction", fontsize=14)


fig = plt.figure(figsize=(11.2, 12.42), dpi=100)

lefts = [0.0857, 0.6125]
bottoms = [0.7531, 0.4144, 0.0714]
w, h = 0.3795, 0.2210

panels = [
    (from_all, ("2019-05-21", "2021-04-13"), ("2019-05-22", "2021-04-15"), ODD_MONTHS, ODD_MONTHS),
    (to_all, ("2019-05-20", "2021-04-14"), ("2019-10-16", "2021-04-08"), ODD_MONTHS, ODD_MONTHS),
    (from_100, ("2020-02-20", "2021-03-24"), ("2020-04-22", "2021-03-30"), ODD_MONTHS, ALL_MONTHS),
    (to_100, ("2019-05-20", "2021-04-14"), ("2020-03-16", "2021-04-01"), ODD_MONTHS, ODD_MONTHS),
    (from_500, ("2020-03-01", "2021-02-25"), ("2020-08-20", "2021-03-25"), ALL_MONTHS, ALL_MONTHS),
    (to_500, ("2020-03-16", "2021-03-20"), ("2020-06-15", "2021-03-29"), ODD_MONTHS, ALL_MONTHS),
]

for i, (rows, xl, yl, xm, ym) in enumerate(panels):
    ax = fig.add_axes([lefts[i % 2], bottoms[i // 2], w, h])
    draw_panel(ax, rows, titles[i], xl, yl, xm, ym)

fig.savefig("out.png", dpi=100)
